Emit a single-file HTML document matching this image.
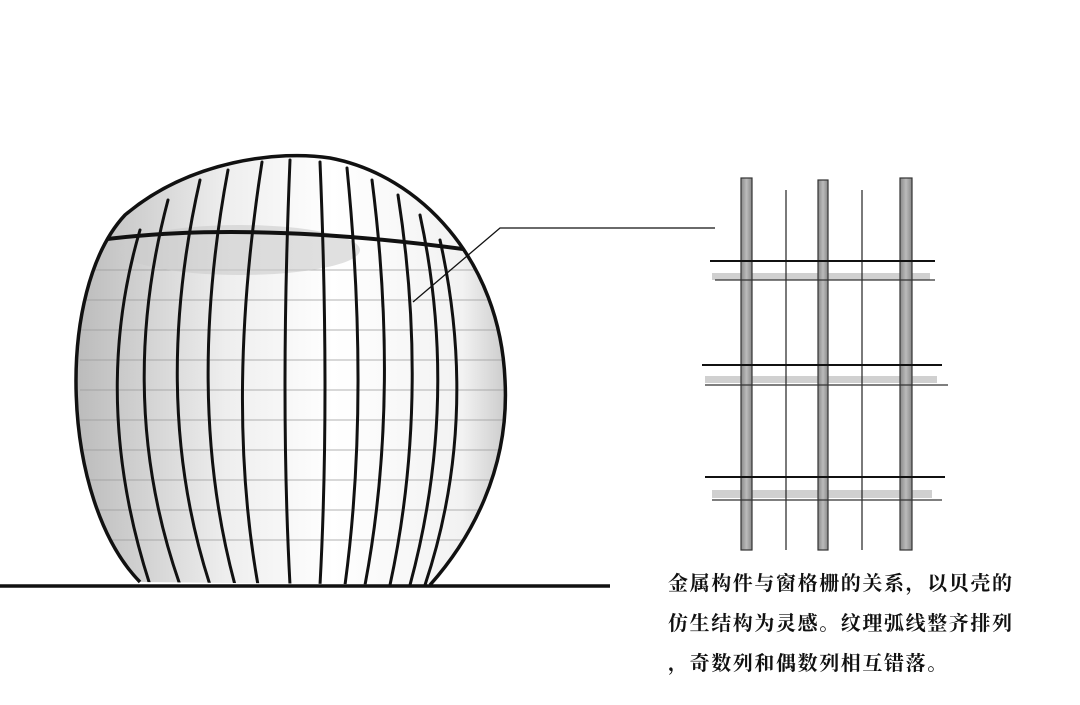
<!DOCTYPE html><html><head><meta charset="utf-8"><style>
html,body{margin:0;padding:0;background:#fff;width:1080px;height:705px;overflow:hidden;position:relative}
.t{position:absolute;left:668px;font-family:"Liberation Serif","Noto Serif CJK SC",serif;font-weight:bold;font-size:20px;color:#111;letter-spacing:1.6px;white-space:nowrap}
</style></head><body>
<svg width="1080" height="705" style="position:absolute;left:0;top:0">
<defs>
<clipPath id="c"><path d="M140,582 C60,500 55,290 125,215 C190,160 280,150 330,158 C420,175 500,260 505,380 C510,470 470,540 430,585 Z"/></clipPath>
<linearGradient id="g" x1="0" x2="1"><stop offset="0" stop-color="#bbb"/><stop offset="0.35" stop-color="#eee"/><stop offset="0.6" stop-color="#fff"/><stop offset="0.9" stop-color="#f2f2f2"/><stop offset="1" stop-color="#ccc"/></linearGradient>
<linearGradient id="p" x1="0" x2="1"><stop offset="0" stop-color="#888"/><stop offset="0.5" stop-color="#bbb"/><stop offset="1" stop-color="#888"/></linearGradient>
</defs>
<path d="M140,582 C60,500 55,290 125,215 C190,160 280,150 330,158 C420,175 500,260 505,380 C510,470 470,540 430,585 Z" fill="url(#g)"/>
<g clip-path="url(#c)" stroke="#999" stroke-width="0.8" fill="none">
<path d="M80,270 H510 M80,300 H510 M80,330 H510 M80,360 H510 M80,390 H510 M80,420 H510 M80,450 H510 M80,480 H510 M80,510 H510 M80,540 H510"/>
<ellipse cx="240" cy="250" rx="120" ry="25" fill="#ccc" stroke="none" opacity="0.6"/>
</g>
<g clip-path="url(#c)" stroke="#111" stroke-width="3" fill="none" stroke-linecap="round">
<path d="M100,240 Q250,220 470,250" stroke-width="4"/>
<path d="M140,230 Q90,400 150,585"/>
<path d="M168,200 Q115,400 180,585"/>
<path d="M200,180 Q150,400 210,585"/>
<path d="M228,170 Q185,400 235,585"/>
<path d="M262,162 Q225,400 258,585"/>
<path d="M290,160 Q280,400 290,585"/>
<path d="M320,162 Q330,400 320,585"/>
<path d="M347,168 Q370,400 345,585"/>
<path d="M372,180 Q400,400 365,585"/>
<path d="M398,195 Q430,400 390,585"/>
<path d="M420,215 Q460,400 410,585"/>
<path d="M440,240 Q480,420 425,585"/>
</g>
<path d="M140,582 C60,500 55,290 125,215 C190,160 280,150 330,158 C420,175 500,260 505,380 C510,470 470,540 430,585" fill="none" stroke="#111" stroke-width="3.5"/>
<path d="M0,586 H610" stroke="#111" stroke-width="3.5"/>
<path d="M413,302 L500,228 H715" stroke="#111" stroke-width="1.3" fill="none"/>
<g fill="#ccc" opacity="0.9">
<rect x="712" y="273" width="218" height="7"/><rect x="705" y="376" width="232" height="7"/><rect x="712" y="490" width="220" height="8"/>
</g>
<g stroke="#222" stroke-width="1.2">
<line x1="786" y1="190" x2="786" y2="550"/><line x1="862" y1="190" x2="862" y2="550"/>
</g>
<g fill="url(#p)" stroke="#333" stroke-width="1.2">
<rect x="741" y="178" width="11" height="372"/><rect x="818" y="180" width="10" height="370"/><rect x="900" y="178" width="12" height="372"/>
</g>
<g stroke="#111" stroke-width="2">
<line x1="710" y1="261" x2="935" y2="261"/><line x1="702" y1="365" x2="942" y2="365"/><line x1="705" y1="477" x2="945" y2="477"/>
</g>
<g stroke="#333" stroke-width="1.2">
<line x1="715" y1="280" x2="935" y2="280"/><line x1="705" y1="385" x2="948" y2="385"/><line x1="712" y1="500" x2="942" y2="500"/>
</g>
</svg>
<div class="t" style="top:567px">金属构件与窗格栅的关系，以贝壳的</div>
<div class="t" style="top:607px">仿生结构为灵感。纹理弧线整齐排列</div>
<div class="t" style="top:647px">，奇数列和偶数列相互错落。</div>
</body></html>
